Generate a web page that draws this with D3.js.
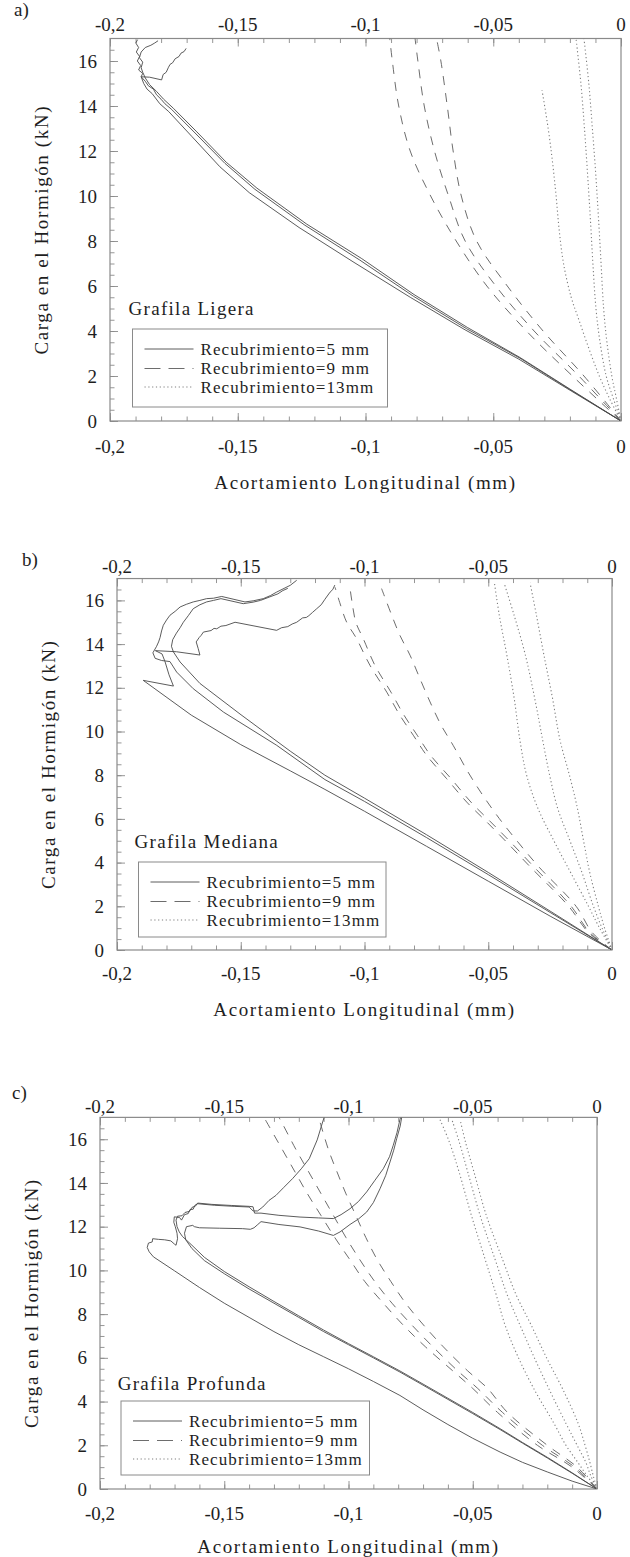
<!DOCTYPE html>
<html>
<head>
<meta charset="utf-8">
<script src="https://cdn.jsdelivr.net/npm/d3@7"></script>
<style>
  html, body { margin: 0; padding: 0; background: #fff; }
  svg { display: block; }
  text { font-family: "Liberation Serif", "Times New Roman", Times, serif; fill: #1e1e1e; }
</style>
</head>
<body>
<svg id="chart" width="630" height="1557"></svg>
<script>
// ---- tick values and labels ----
const xMajorTicks = [-0.2, -0.15, -0.1, -0.05, 0];
const xTickLabels = ["-0,2", "-0,15", "-0,1", "-0,05", "0"];
const yMajorTicks = [0, 2, 4, 6, 8, 10, 12, 14, 16];
const seriesLabels = ["Recubrimiento=5 mm", "Recubrimiento=9 mm", "Recubrimiento=13mm"];
const panelNames = ["Grafila Ligera", "Grafila Mediana", "Grafila Profunda"];
const panelTags = ["a)", "b)", "c)"];
const xAxisTitle = "Acortamiento Longitudinal (mm)";
const yAxisTitle = "Carga en el Hormigón (kN)";

// ---- Grafila Ligera: [shortening mm, load kN], three specimens per cover ----
const ligeraR5 = [
  [[0,0],[-0.02,1.4],[-0.0395,2.79],[-0.0604,4.1],[-0.0813,5.55],[-0.1022,7.15],[-0.1237,8.7],[-0.1433,10.3],[-0.155,11.45],[-0.1667,12.8],[-0.1759,13.85],[-0.1785,14.1],[-0.18,14.3],[-0.1818,14.5],[-0.183,14.75],[-0.185,14.9],[-0.1862,15.1],[-0.1878,15.3],[-0.1872,15.45],[-0.1888,15.6],[-0.188,15.8],[-0.1893,16.0],[-0.1884,16.2],[-0.1897,16.4],[-0.1888,16.6],[-0.1899,16.8],[-0.1892,16.95]],
  [[0,0],[-0.02,1.37],[-0.04,2.75],[-0.061,4.05],[-0.0825,5.5],[-0.1045,7.05],[-0.126,8.6],[-0.1455,10.15],[-0.157,11.3],[-0.168,12.65],[-0.177,13.75],[-0.1805,14.1],[-0.1835,14.55],[-0.1855,14.75],[-0.1868,15.0],[-0.1878,15.3],[-0.1845,15.28],[-0.1798,15.16],[-0.1792,15.4],[-0.178,15.5],[-0.1772,15.7],[-0.1765,15.85],[-0.1755,15.92],[-0.1745,16.1],[-0.173,16.2],[-0.1722,16.35],[-0.171,16.42],[-0.1702,16.56]],
  [[0,0],[-0.02,1.42],[-0.0395,2.82],[-0.06,4.15],[-0.081,5.62],[-0.1015,7.22],[-0.123,8.75],[-0.1425,10.35],[-0.1545,11.5],[-0.166,12.85],[-0.1752,13.9],[-0.179,14.3],[-0.1818,14.65],[-0.1845,14.95],[-0.1862,15.25],[-0.1872,15.5],[-0.1878,15.7],[-0.1872,15.95],[-0.1885,16.15],[-0.1878,16.4],[-0.1862,16.6],[-0.184,16.7],[-0.1825,16.8],[-0.1812,16.9]]
];
const ligeraR9 = [
  [[0,0],[-0.019,2],[-0.037,4],[-0.0525,6],[-0.0645,8],[-0.0745,10],[-0.0825,12],[-0.087,14],[-0.0895,16],[-0.0905,17]],
  [[0,0],[-0.0165,2],[-0.034,4],[-0.049,6],[-0.061,8],[-0.0675,10],[-0.073,12],[-0.077,14],[-0.0795,16],[-0.0806,17]],
  [[0,0],[-0.0145,2],[-0.0305,4],[-0.0445,6],[-0.0565,8],[-0.0625,10],[-0.0657,12],[-0.068,14],[-0.0705,16],[-0.0722,17]]
];
const ligeraR13 = [
  [[0,0],[-0.0045,1],[-0.0085,2],[-0.0125,3.2],[-0.0165,4.5],[-0.0195,5.5],[-0.0225,7],[-0.0242,8.5],[-0.0254,10],[-0.0268,11.5],[-0.0285,13],[-0.0309,14.7]],
  [[0,0],[-0.003,1],[-0.0058,2],[-0.0082,3.5],[-0.0098,5],[-0.011,7],[-0.012,9],[-0.0131,11],[-0.0143,13],[-0.0157,15],[-0.0176,17]],
  [[0,0],[-0.0018,1],[-0.0036,2],[-0.0055,3.5],[-0.0068,5],[-0.0078,7],[-0.0088,9],[-0.0099,11],[-0.0112,13],[-0.0126,15],[-0.0145,17]]
];

// ---- Grafila Mediana ----
const medianaR5 = [
  [[0,0],[-0.025,1.55],[-0.05,3.15],[-0.075,4.75],[-0.1,6.35],[-0.116,7.35],[-0.13,8.2],[-0.15,9.4],[-0.17,10.75],[-0.1894,12.34],[-0.1772,12.08],[-0.179,12.6],[-0.1806,13.2],[-0.1818,13.55],[-0.1845,13.7],[-0.176,13.65],[-0.1665,13.5],[-0.1672,13.8],[-0.168,14.1],[-0.1668,14.3],[-0.166,14.4],[-0.1651,14.55],[-0.162,14.62],[-0.1608,14.72],[-0.1597,14.7],[-0.158,14.82],[-0.156,14.85],[-0.1523,15.0],[-0.1355,14.63],[-0.1335,14.75],[-0.131,14.8],[-0.1292,14.92],[-0.1274,15.0],[-0.125,15.2],[-0.1235,15.22],[-0.1225,15.3],[-0.121,15.45],[-0.1193,15.62],[-0.1175,15.8],[-0.116,16.05],[-0.1139,16.38],[-0.1128,16.5],[-0.112,16.7]],
  [[0,0],[-0.025,1.72],[-0.05,3.45],[-0.075,5.15],[-0.1,6.8],[-0.116,7.8],[-0.1355,9.37],[-0.157,10.89],[-0.1692,11.96],[-0.1759,12.72],[-0.1786,13.2],[-0.182,13.25],[-0.1846,13.35],[-0.1855,13.6],[-0.184,13.9],[-0.1832,14.1],[-0.1826,14.3],[-0.182,14.6],[-0.1813,14.86],[-0.18,15.1],[-0.1786,15.32],[-0.1765,15.5],[-0.1745,15.7],[-0.172,15.82],[-0.1692,15.93],[-0.1665,16.0],[-0.1638,16.08],[-0.161,16.1],[-0.1577,16.18],[-0.1483,15.93],[-0.145,15.98],[-0.1409,16.08],[-0.138,16.22],[-0.1355,16.38],[-0.1325,16.55],[-0.13,16.69],[-0.1274,16.92]],
  [[0,0],[-0.025,1.78],[-0.05,3.55],[-0.075,5.28],[-0.1,6.95],[-0.116,8.0],[-0.13,9.1],[-0.1503,10.8],[-0.1665,12.2],[-0.1745,13.18],[-0.1772,13.64],[-0.178,13.9],[-0.1775,14.2],[-0.176,14.5],[-0.1745,14.75],[-0.1732,15.0],[-0.1712,15.3],[-0.1692,15.62],[-0.1665,15.8],[-0.1638,15.93],[-0.161,16.0],[-0.158,16.08],[-0.149,15.85],[-0.145,15.92],[-0.142,16.0],[-0.1385,16.15],[-0.135,16.3],[-0.133,16.45],[-0.131,16.55]]
];
const medianaR9 = [
  [[0,0],[-0.0095,0.8],[-0.0175,2],[-0.033,3.8],[-0.0426,4.94],[-0.0506,5.86],[-0.0587,6.77],[-0.0668,7.84],[-0.0749,8.91],[-0.0803,9.83],[-0.0857,10.74],[-0.091,11.8],[-0.0978,13.03],[-0.1032,14.25],[-0.1072,15.0],[-0.11,15.9],[-0.1119,16.6]],
  [[0,0],[-0.009,0.8],[-0.0165,2],[-0.0315,3.8],[-0.041,4.94],[-0.049,5.86],[-0.057,6.77],[-0.065,7.84],[-0.0733,8.91],[-0.0787,9.83],[-0.084,10.74],[-0.0893,11.8],[-0.0958,13.03],[-0.1005,14.25],[-0.1035,15.0],[-0.105,15.9],[-0.1059,16.6]],
  [[0,0],[-0.008,0.8],[-0.0145,2],[-0.0295,3.8],[-0.038,4.94],[-0.0455,6.01],[-0.0522,7.08],[-0.0582,8.15],[-0.0642,9.37],[-0.069,10.28],[-0.0735,11.35],[-0.0776,12.42],[-0.0816,13.49],[-0.0857,14.4],[-0.089,15.32],[-0.0931,16.54]]
];
const medianaR13 = [
  [[0,0],[-0.005,1.0],[-0.0095,2],[-0.0165,3.5],[-0.0235,5],[-0.03,6.5],[-0.0345,8],[-0.0372,9.6],[-0.0395,11.5],[-0.0425,13.5],[-0.0455,15.3],[-0.0475,16.8]],
  [[0,0],[-0.004,1],[-0.0075,2],[-0.012,3.5],[-0.017,5],[-0.022,6.5],[-0.0252,8],[-0.028,9.6],[-0.0312,11.5],[-0.035,13.5],[-0.0395,15.3],[-0.0436,16.8]],
  [[0,0],[-0.003,1],[-0.0055,2],[-0.0089,3.5],[-0.0115,5],[-0.014,6.5],[-0.0172,8],[-0.021,9.6],[-0.024,11.5],[-0.0275,13.5],[-0.0305,15.3],[-0.0331,16.8]]
];

// ---- Grafila Profunda ----
const profundaR5 = [
  [[0,0],[-0.01,0.36],[-0.02,0.78],[-0.03,1.22],[-0.039,1.69],[-0.05,2.32],[-0.06,2.95],[-0.07,3.62],[-0.0793,4.28],[-0.09,4.92],[-0.1,5.5],[-0.11,6.05],[-0.12,6.6],[-0.13,7.2],[-0.14,7.85],[-0.15,8.5],[-0.16,9.22],[-0.17,9.98],[-0.1785,10.62],[-0.1802,10.85],[-0.181,11.05],[-0.1805,11.25],[-0.179,11.3],[-0.1788,11.45],[-0.1765,11.42],[-0.174,11.4],[-0.1715,11.35],[-0.17,11.2],[-0.1694,11.15],[-0.1688,11.45],[-0.169,11.7],[-0.1697,12.0],[-0.1703,12.2],[-0.1701,12.45],[-0.168,12.42],[-0.1672,12.3],[-0.166,12.55],[-0.1645,12.6],[-0.1638,12.78],[-0.1625,12.8],[-0.1618,12.98],[-0.1607,13.05],[-0.154,12.98],[-0.146,12.93],[-0.14,12.9],[-0.1384,12.72],[-0.1366,12.72],[-0.1345,12.9],[-0.132,13.2],[-0.1292,13.43],[-0.126,13.8],[-0.1225,14.2],[-0.119,14.65],[-0.1158,15.11],[-0.1126,15.97],[-0.1104,16.79],[-0.1098,17.0]],
  [[0,0],[-0.01,0.72],[-0.02,1.42],[-0.03,2.1],[-0.039,2.72],[-0.05,3.45],[-0.06,4.1],[-0.07,4.75],[-0.0793,5.35],[-0.09,6.0],[-0.1,6.6],[-0.11,7.2],[-0.12,7.85],[-0.13,8.5],[-0.14,9.15],[-0.15,9.85],[-0.158,10.45],[-0.163,11.0],[-0.1655,11.4],[-0.166,11.7],[-0.1652,12.0],[-0.1627,12.06],[-0.162,12.0],[-0.16,11.95],[-0.152,11.93],[-0.1426,11.91],[-0.1395,11.88],[-0.138,11.95],[-0.1365,12.1],[-0.1352,12.23],[-0.128,12.1],[-0.1195,11.99],[-0.112,11.8],[-0.1061,11.6],[-0.1034,11.76],[-0.0994,12.1],[-0.096,12.35],[-0.0927,12.67],[-0.09,13.1],[-0.0873,13.74],[-0.085,14.35],[-0.0833,14.96],[-0.0818,15.5],[-0.0806,16.03],[-0.0792,16.6],[-0.0786,17.0]],
  [[0,0],[-0.01,0.74],[-0.02,1.45],[-0.03,2.13],[-0.039,2.76],[-0.05,3.5],[-0.06,4.15],[-0.07,4.8],[-0.0793,5.4],[-0.09,6.05],[-0.1,6.65],[-0.11,7.27],[-0.12,7.92],[-0.13,8.58],[-0.14,9.25],[-0.15,9.95],[-0.158,10.6],[-0.163,11.15],[-0.1668,11.55],[-0.1681,11.76],[-0.169,12.0],[-0.1694,12.3],[-0.1688,12.48],[-0.167,12.5],[-0.1658,12.65],[-0.164,12.7],[-0.163,12.88],[-0.1615,12.95],[-0.1607,13.08],[-0.155,13.02],[-0.147,12.97],[-0.14,12.93],[-0.1384,12.91],[-0.1378,12.62],[-0.1352,12.62],[-0.128,12.52],[-0.1195,12.44],[-0.112,12.4],[-0.1061,12.37],[-0.103,12.55],[-0.0994,12.82],[-0.096,13.15],[-0.0927,13.59],[-0.0895,14.1],[-0.086,14.65],[-0.0835,15.2],[-0.082,15.72],[-0.0805,16.3],[-0.0793,16.9],[-0.079,17.0]]
];
const profundaR9 = [
  [[0,0],[-0.01,1],[-0.024,2],[-0.04,3.5],[-0.05,4.6],[-0.058,5.4],[-0.069,6.5],[-0.078,7.5],[-0.086,8.5],[-0.0935,9.5],[-0.0995,10.5],[-0.1055,11.5],[-0.111,12.5],[-0.1165,13.5],[-0.1215,14.5],[-0.1265,15.5],[-0.133,16.8],[-0.134,17]],
  [[0,0],[-0.009,1],[-0.022,2],[-0.038,3.5],[-0.048,4.6],[-0.056,5.4],[-0.066,6.5],[-0.0745,7.5],[-0.0825,8.5],[-0.0895,9.5],[-0.0955,10.5],[-0.101,11.5],[-0.106,12.5],[-0.111,13.5],[-0.116,14.5],[-0.121,15.5],[-0.127,16.8],[-0.128,17]],
  [[0,0],[-0.008,1],[-0.02,2],[-0.036,3.5],[-0.044,4.6],[-0.052,5.4],[-0.0618,6.5],[-0.0698,7.5],[-0.077,8.5],[-0.083,9.5],[-0.0885,10.5],[-0.093,11.5],[-0.097,12.5],[-0.101,13.5],[-0.1046,14.5],[-0.108,15.5],[-0.1115,16.8],[-0.112,17]]
];
const profundaR13 = [
  [[0,0],[-0.004,0.6],[-0.0076,1.2],[-0.0125,2],[-0.0173,3.0],[-0.025,4.5],[-0.0318,6.05],[-0.037,7.5],[-0.0406,8.9],[-0.045,10.5],[-0.0505,12.5],[-0.0555,14.5],[-0.0595,15.9],[-0.0632,16.9]],
  [[0,0],[-0.0025,0.6],[-0.0044,1.19],[-0.008,2],[-0.0125,3.0],[-0.019,4.5],[-0.0254,6.05],[-0.031,7.5],[-0.0362,8.9],[-0.041,10.5],[-0.047,12.5],[-0.052,14.5],[-0.0555,15.9],[-0.0584,16.9]],
  [[0,0],[-0.0015,0.6],[-0.0028,1.19],[-0.0048,2],[-0.0076,3.0],[-0.0135,4.5],[-0.0205,6.05],[-0.0265,7.5],[-0.0326,8.9],[-0.038,10.5],[-0.0445,12.5],[-0.0495,14.5],[-0.053,15.9],[-0.0551,16.9]]
];

const panelSeries = [
  [ligeraR5, ligeraR9, ligeraR13],
  [medianaR5, medianaR9, medianaR13],
  [profundaR5, profundaR9, profundaR13]
];

// ---- drawing layout ----
const layout = [
  { left: 110, right: 621, bottom: 421,  pxPerKN: 22.5,  tag: [14, 16],   topLab: 31,   botLab: 453,  titleY: 489,
    legend: { x: 132.5, y: 329, w: 255, h: 78 }, name: [128.5, 315] },
  { left: 117, right: 612, bottom: 950,  pxPerKN: 21.85, tag: [22, 566],  topLab: 573,  botLab: 980,  titleY: 1016,
    legend: { x: 138.5, y: 862, w: 247.5, h: 75 }, name: [134.5, 848] },
  { left: 100, right: 597, bottom: 1489, pxPerKN: 21.86, tag: [12, 1099], topLab: 1113, botLab: 1520, titleY: 1553,
    legend: { x: 121, y: 1401, w: 248.5, h: 74 }, name: [117.7, 1390] }
];

const styles = [
  { stroke: "#4a4a4a", width: 0.9, dash: null,      curve: d3.curveLinear },
  { stroke: "#5c5c5c", width: 0.9, dash: "9,8",     curve: d3.curveCatmullRom.alpha(0.5) },
  { stroke: "#7e7e7e", width: 1.1, dash: "1.2,2.6", curve: d3.curveCatmullRom.alpha(0.5) }
];

const svg = d3.select("#chart");
const frameColor = "#8a8a8a";
const yMax = 17;

layout.forEach((L, i) => {
  const top = L.bottom - yMax * L.pxPerKN;
  const x = d3.scaleLinear().domain([-0.2, 0]).range([L.left, L.right]);
  const y = d3.scaleLinear().domain([0, yMax]).range([L.bottom, top]);
  const g = svg.append("g");

  // clip region for curves
  const clipId = "clip" + i;
  svg.append("clipPath").attr("id", clipId)
    .append("rect").attr("x", L.left).attr("y", top)
    .attr("width", L.right - L.left).attr("height", L.bottom - top);

  // inward ticks: minor and major on top/bottom, left only
  const minorX = d3.range(-20, 1).map(v => v / 100);
  const minorY = d3.range(0, 34).map(v => v / 2);
  const tickAxis = (axis, cls) => g.append("g").attr("class", cls).call(axis)
    .call(s => s.select(".domain").remove())
    .call(s => s.selectAll("line").attr("stroke", frameColor).attr("stroke-width", 0.9));

  tickAxis(d3.axisBottom(x).tickValues(minorX).tickSize(-4.5).tickFormat(""), "xb-minor")
    .attr("transform", `translate(0,${L.bottom})`);
  tickAxis(d3.axisBottom(x).tickValues(xMajorTicks).tickSize(-8).tickFormat(""), "xb-major")
    .attr("transform", `translate(0,${L.bottom})`);
  tickAxis(d3.axisTop(x).tickValues(minorX).tickSize(-4.5).tickFormat(""), "xt-minor")
    .attr("transform", `translate(0,${top})`);
  tickAxis(d3.axisTop(x).tickValues(xMajorTicks).tickSize(-8).tickFormat(""), "xt-major")
    .attr("transform", `translate(0,${top})`);
  tickAxis(d3.axisLeft(y).tickValues(minorY).tickSize(-4.5).tickFormat(""), "yl-minor")
    .attr("transform", `translate(${L.left},0)`);
  tickAxis(d3.axisLeft(y).tickValues(yMajorTicks).tickSize(-8).tickFormat(""), "yl-major")
    .attr("transform", `translate(${L.left},0)`);

  // frame
  g.append("rect")
    .attr("x", L.left).attr("y", top)
    .attr("width", L.right - L.left).attr("height", L.bottom - top)
    .attr("fill", "none").attr("stroke", frameColor).attr("stroke-width", 1.2);

  // tick labels
  const labelFont = 19;
  [L.topLab, L.botLab].forEach(yy => {
    g.selectAll(null).data(xMajorTicks).enter().append("text")
      .attr("x", d => x(d)).attr("y", yy)
      .attr("text-anchor", "middle").attr("font-size", labelFont)
      .text((d, k) => xTickLabels[k]);
  });
  g.selectAll(null).data(yMajorTicks).enter().append("text")
    .attr("x", L.left - 13).attr("y", d => y(d)).attr("dy", "0.35em")
    .attr("text-anchor", "end").attr("font-size", labelFont)
    .text(d => String(d));

  // axis titles
  g.append("text")
    .attr("x", (L.left + L.right) / 2).attr("y", L.titleY)
    .attr("text-anchor", "middle").attr("font-size", 19)
    .attr("letter-spacing", 1.6)
    .text(xAxisTitle);
  g.append("text")
    .attr("transform", `translate(${L.left - 62},${(L.bottom + top) / 2}) rotate(-90)`)
    .attr("text-anchor", "middle").attr("font-size", 19)
    .attr("letter-spacing", 1.6)
    .text(yAxisTitle);

  // panel tag
  g.append("text").attr("x", L.tag[0]).attr("y", L.tag[1])
    .attr("font-size", 19).text(panelTags[i]);

  // curves
  const plot = g.append("g").attr("clip-path", `url(#${clipId})`);
  panelSeries[i].forEach((group, s) => {
    const st = styles[s];
    const line = d3.line().x(d => x(d[0])).y(d => y(d[1])).curve(st.curve);
    plot.selectAll(null).data(group).enter().append("path")
      .attr("d", line)
      .attr("fill", "none")
      .attr("stroke", st.stroke)
      .attr("stroke-width", st.width)
      .attr("stroke-dasharray", st.dash)
      .attr("stroke-linejoin", "round");
  });

  // panel name
  g.append("text").attr("x", L.name[0]).attr("y", L.name[1])
    .attr("font-size", 19).attr("letter-spacing", 1.3)
    .text(panelNames[i]);

  // legend
  const lg = g.append("g");
  lg.append("rect")
    .attr("x", L.legend.x).attr("y", L.legend.y)
    .attr("width", L.legend.w).attr("height", L.legend.h)
    .attr("fill", "#fff").attr("stroke", frameColor).attr("stroke-width", 1);
  const rowOffsets = [20, 39.5, 58];
  seriesLabels.forEach((lab, s) => {
    const st = styles[s];
    const ry = L.legend.y + rowOffsets[s];
    lg.append("line")
      .attr("x1", L.legend.x + 12).attr("x2", L.legend.x + 61)
      .attr("y1", ry).attr("y2", ry)
      .attr("stroke", st.stroke).attr("stroke-width", st.width)
      .attr("stroke-dasharray", s === 1 ? "16,8" : st.dash);
    lg.append("text")
      .attr("x", L.legend.x + 68).attr("y", ry).attr("dy", "0.33em")
      .attr("font-size", 17).attr("letter-spacing", 1.1)
      .text(lab);
  });
});
</script>
</body>
</html>
